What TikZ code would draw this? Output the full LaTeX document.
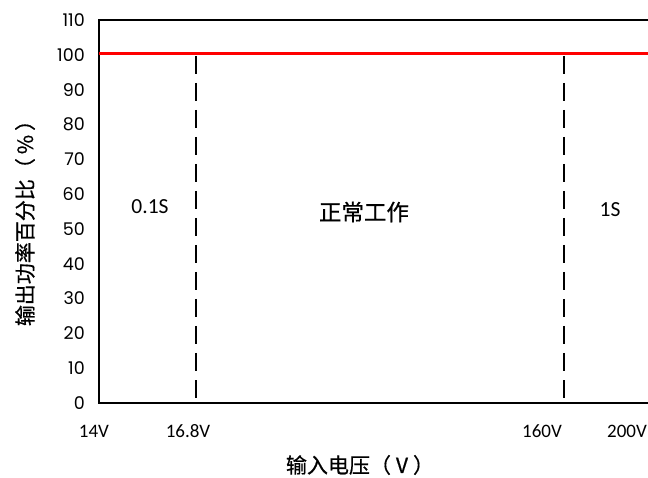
\documentclass[tikz,border=0pt]{standalone}
\usepackage{fontspec}
\newfontfamily\cjk[FakeBold=0.6]{Noto Sans CJK SC}
\newfontfamily\tickfont{Poppins}
\newfontfamily\calib{Carlito}
\begin{document}
\begin{tikzpicture}[x=1pt,y=-1pt,
  axisline/.style={line width=2.2pt,black},
  redline/.style={line width=3pt,red},
  vdash/.style={line width=2.5pt,black,dash pattern=on 18pt off 9pt},
  ytick/.style={anchor=east,inner sep=0pt,font=\tickfont\fontsize{17.5}{17.5}\selectfont},
  xtick/.style={inner sep=0pt,font=\calib\fontsize{19}{19}\selectfont},
  zone/.style={inner sep=0pt,font=\calib\fontsize{21.5}{21.5}\selectfont},
  cjklab/.style={inner sep=0pt,font=\cjk\fontsize{21}{21}\selectfont}]
\useasboundingbox[fill=white] (0,0) rectangle (648,478);
% axes
\coordinate (tl) at (99,20);
\coordinate (bl) at (99,403);
\coordinate (tr) at (648,20);
\coordinate (br) at (648,403);
\draw[axisline] (tr) -- (tl) -- (bl) -- (br);
% 100% line
\coordinate (r0) at (99,54);
\coordinate (r1) at (648,54);
\draw[redline] (r0) -- (r1);
% dashed lines
\coordinate (d1t) at (196,56);
\coordinate (d1b) at (196,403);
\coordinate (d2t) at (564,56);
\coordinate (d2b) at (564,403);
\draw[vdash] (d1t) -- (d1b);
\draw[vdash] (d2t) -- (d2b);
% y tick labels
\foreach \v in {0,10,...,110}{
  \node[ytick] (y\v) at (85,{403-\v*3.4818}) {\v};
}
% x tick labels
\node[xtick] (x14) at (94,431) {14V};
\node[xtick] (x168) at (188,431) {16.8V};
\node[xtick] (x160) at (542,431) {160V};
\node[xtick,anchor=west] (x200) at (607,431) {200V};
% zone labels
\node[zone] (z1) at (150,207) {0.1S};
\node[cjklab,font=\cjk\fontsize{22.5}{22.5}\selectfont] (z2) at (364,212) {正常工作};
\node[zone] (z3) at (610,210) {1S};
% axis titles
\node[cjklab] (xt) at (360,465) {输入电压（\hspace{5pt}V\hspace{5pt}）};
\node[cjklab,rotate=90] (yt) at (25,218) {输出功率百分比（\hspace{4pt}\%\hspace{4pt}）};
\end{tikzpicture}
\end{document}
